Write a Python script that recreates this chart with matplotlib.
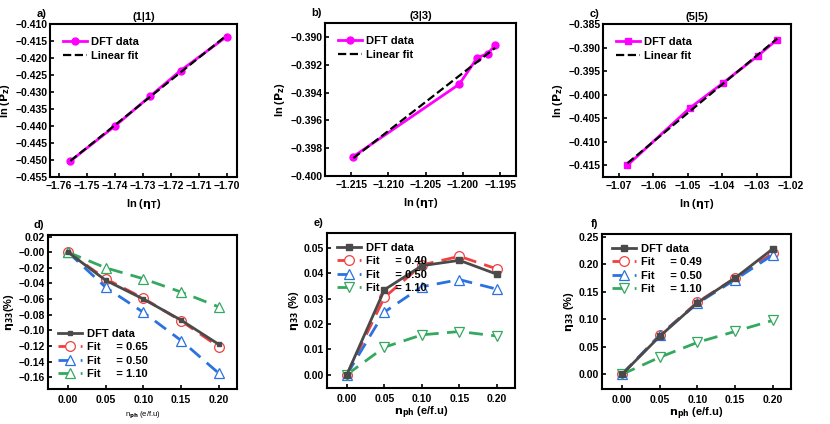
import matplotlib
matplotlib.use("Agg")
import matplotlib.pyplot as plt
import numpy as np

matplotlib.rcParams.update({
    "font.family": "Liberation Sans", "font.weight": "bold", "font.size": 8,
    "axes.labelweight": "bold", "axes.linewidth": 1.5,
    "xtick.direction": "in", "ytick.direction": "in",
    "xtick.major.size": 3, "ytick.major.size": 3,
    "xtick.major.width": 1.2, "ytick.major.width": 1.2,
    "xtick.major.pad": 3, "ytick.major.pad": 2,
    "xtick.labelsize": 7.5, "ytick.labelsize": 7.5,
})

# top row: ln(eta_T) vs ln(P_z)
a_x = [-1.756, -1.740, -1.7275, -1.7165, -1.700]
a_y = [-0.4503, -0.4400, -0.4313, -0.4237, -0.4137]
b_x = [-1.2147, -1.2005, -1.1981, -1.1967, -1.1957]
b_y = [-0.3986, -0.3934, -0.3915, -0.3912, -0.3906]
c_x = [-1.0675, -1.0493, -1.0397, -1.0297, -1.0240]
c_y = [-0.4150, -0.4028, -0.3975, -0.3918, -0.3883]

# bottom row: eta_33 vs n_ph
n_ph = [0.00, 0.05, 0.10, 0.15, 0.20]
d_dft = [0.0, -0.036, -0.060, -0.087, -0.118]
d_fit = {"0.65": [0.0, -0.034, -0.059, -0.088, -0.121],
         "0.50": [0.0, -0.045, -0.077, -0.113, -0.155],
         "1.10": [0.0, -0.020, -0.034, -0.051, -0.070]}
e_dft = [0.0, 0.0335, 0.0430, 0.0451, 0.0396]
e_fit = {"0.40": [0.0, 0.0305, 0.0433, 0.0467, 0.0417],
         "0.50": [0.0, 0.0247, 0.0347, 0.0375, 0.0337],
         "1.10": [0.0, 0.0108, 0.0157, 0.0170, 0.0152]}
f_dft = [0.0, 0.069, 0.130, 0.175, 0.228]
f_fit = {"0.49": [0.0, 0.071, 0.131, 0.175, 0.220],
         "0.50": [0.0, 0.071, 0.129, 0.172, 0.217],
         "1.10": [0.0, 0.031, 0.058, 0.078, 0.098]}

MAG = "#ff00ff"
fit_cols = ["#f04040", "#2a72e0", "#35a860"]

fig = plt.figure(figsize=(8.3, 4.24), dpi=100)
W, H = 830, 424


def add_ax(l, t, r, b):
    return fig.add_axes([l / W, 1 - b / H, (r - l) / W, (b - t) / H])


top_boxes = [(50, 24, 237, 177), (325, 23, 516, 176), (603, 24, 791, 177)]
bot_boxes = [(48, 235, 237, 389), (327, 233, 515, 388), (602, 234, 791, 389)]

top_data = [(a_x, a_y, "o", "(1|1)", "a)"), (b_x, b_y, "o", "(3|3)", "b)"),
            (c_x, c_y, "s", "(5|5)", "c)")]
top_lims = [((-1.7633, -1.6963), (-0.455, -0.410), np.arange(-1.76, -1.695, 0.01), np.arange(-0.455, -0.4095, 0.005), "%.3f"),
            ((-1.2185, -1.1929), (-0.400, -0.389), np.arange(-1.215, -1.1945, 0.005), np.arange(-0.400, -0.3895, 0.002), "%.3f"),
            ((-1.0746, -1.0212), (-0.4175, -0.385), np.arange(-1.07, -1.0195, 0.01), np.arange(-0.415, -0.3845, 0.005), "%.3f")]
top_xfmt = ["%.2f", "%.3f", "%.2f"]

for box, (x, y, mk, title, lab), (xl, yl, xt, yt, yf), xf in zip(top_boxes, top_data, top_lims, top_xfmt):
    ax = add_ax(*box)
    ax.plot(x, y, "-", color=MAG, lw=2, marker=mk, ms=5, label="DFT data")
    z = np.polyfit(x, y, 1)
    xx = np.array([x[0], x[-1]])
    ax.plot(xx, np.polyval(z, xx), "--", color="black", lw=1.6, label="Linear fit")
    ax.set_xlim(*xl)
    ax.set_ylim(*yl)
    ax.set_xticks(xt)
    ax.set_yticks(yt)
    ax.set_xticklabels([(xf % v).replace("-", "\u2212") for v in xt])
    ax.set_yticklabels([(yf % v).replace("-", "\u2212") for v in yt])
    ax.set_xlabel(r"ln ($\mathbf{\eta_T}$)", labelpad=4)
    ax.set_ylabel(r"ln ($\mathbf{P_z}$)", labelpad=2)
    ax.set_title(title, fontsize=8, fontweight="bold", pad=3)
    ax.text(-0.02, 1.03, lab, transform=ax.transAxes, ha="right", va="bottom", fontsize=8, fontweight="bold")
    ax.legend(loc="upper left", frameon=False, fontsize=8, handlelength=2.1,
              borderaxespad=0.8, labelspacing=0.3, handletextpad=0.4)

bot_data = [(d_dft, d_fit, ["o", "^", "^"], "d)", r"$\mathbf{\eta_{33}}$(%)", "lower left"),
            (e_dft, e_fit, ["o", "^", "v"], "e)", r"$\mathbf{\eta_{33}}$ (%)", "upper left"),
            (f_dft, f_fit, ["o", "^", "v"], "f)", r"$\mathbf{\eta_{33}}$ (%)", "upper left")]
bot_lims = [((-0.175, 0.022), np.arange(-0.16, 0.021, 0.02)),
            ((-0.0053, 0.0559), np.arange(0.0, 0.051, 0.01)),
            ((-0.0266, 0.2548), np.arange(0.0, 0.251, 0.05))]

for i, (box, (dft, fits, mks, lab, ylab, loc), (yl, yt)) in enumerate(zip(bot_boxes, bot_data, bot_lims)):
    ax = add_ax(*box)
    ax.plot(n_ph, dft, "-", color="#4a4a4a", lw=2, marker="s", ms=3 if i == 0 else 5,
            label="DFT data", zorder=4)
    for (k, v), mk, col in zip(fits.items(), mks, fit_cols):
        ax.plot(n_ph, v, linestyle=(0, (5, 3)), color=col, lw=2, marker=mk, ms=7,
                mfc="white", mec=col, mew=0.9, label=f"Fit     = {k}", zorder=3)
    ax.set_xlim(-0.0265, 0.224)
    ax.set_ylim(*yl)
    ax.set_xticks(n_ph)
    ax.set_xticklabels(["%.2f" % v for v in n_ph])
    ax.set_yticks(yt)
    ax.set_yticklabels([("%.2f" % v).replace("-", "\u2212") for v in yt])
    ax.tick_params(axis="x", pad=4)
    if i == 0:
        ax.set_xlabel(r"n$_{\mathbf{ph}}$ (e/f.u)", fontsize=5.5, fontweight="normal", labelpad=4)
    else:
        ax.set_xlabel(r"$\mathbf{n_{ph}}$ (e/f.u)", labelpad=1)
    ax.set_ylabel(ylab, labelpad=2)
    ax.text(-0.02, 1.03, lab, transform=ax.transAxes, ha="right", va="bottom", fontsize=8, fontweight="bold")
    ax.legend(loc=loc, frameon=False, fontsize=8, handlelength=2.2,
              borderaxespad=0.5, labelspacing=0.3, handletextpad=0.4)

fig.savefig("out.png", dpi=100)
